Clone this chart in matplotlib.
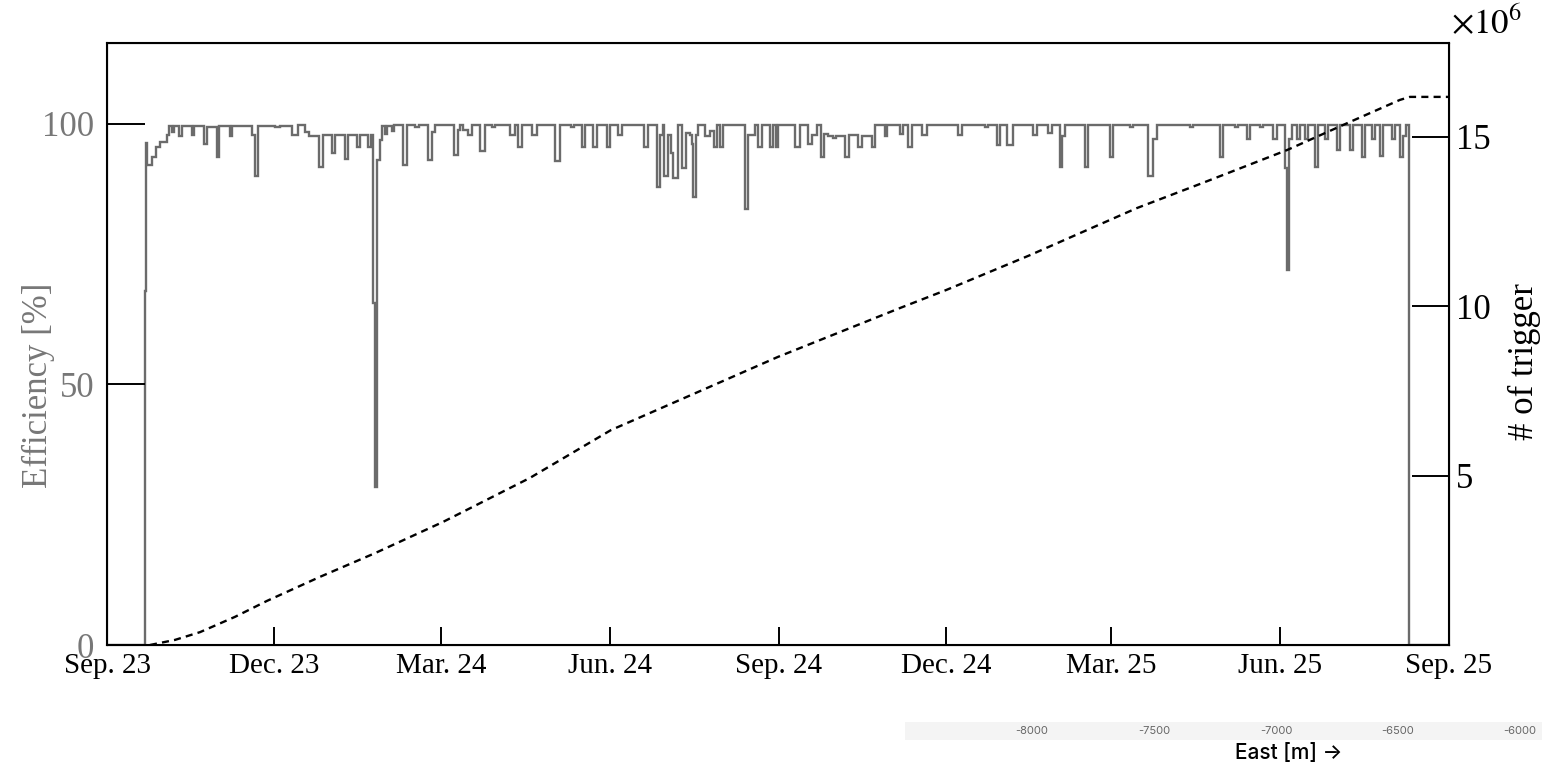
import numpy as np
import matplotlib
matplotlib.use("Agg")
import matplotlib.pyplot as plt

# efficiency step series: start day of each step (days since 2023-09-01) and value [%]
eff_start = [
    0.0, 20.7, 21.0, 21.8, 24.5, 26.7, 28.9, 32.7, 33.8, 35.4, 36.5, 39.2, 40.8, 46.3, 47.4,
    52.8, 54.5, 59.9, 61.0, 67.0, 68.1, 79.0, 80.6, 82.2, 91.5, 94.2, 100.8, 104.0, 107.8,
    110.0, 115.4, 117.6, 122.5, 124.2, 129.7, 131.3, 136.2, 137.9, 142.2, 143.8, 145.1,
    146.0, 147.1, 148.7, 149.8, 151.4, 152.5, 155.2, 156.3, 161.2, 163.4, 167.8, 169.9,
    174.8, 177.0, 178.6, 189.0, 191.2, 192.3, 193.9, 196.6, 198.8, 203.2, 205.9, 209.7,
    211.3, 219.5, 222.2, 223.9, 226.0, 231.5, 234.2, 244.0, 246.7, 252.7, 254.4, 258.7,
    260.3, 264.7, 266.9, 272.3, 274.0, 278.3, 280.5, 292.5, 294.7, 299.6, 301.2, 302.8,
    303.4, 305.6, 307.2, 308.3, 311.0, 313.2, 315.3, 317.5, 318.6, 319.2, 320.8, 321.9,
    325.7, 328.4, 330.6, 332.2, 333.9, 335.5, 347.5, 349.1, 352.9, 354.6, 356.8, 361.1,
    362.7, 364.4, 365.5, 374.7, 377.5, 381.8, 384.0, 386.7, 388.9, 390.5, 392.7, 395.4,
    397.1, 401.9, 404.1, 409.0, 411.2, 416.7, 418.3, 423.7, 424.8, 431.9, 433.6, 436.3,
    438.5, 443.9, 446.6, 463.5, 465.7, 478.2, 479.8, 484.7, 486.4, 490.2, 493.5, 504.4,
    506.5, 512.5, 514.7, 519.1, 520.2, 521.8, 532.7, 534.3, 546.3, 547.9, 557.2, 558.8,
    567.0, 569.7, 571.9, 589.9, 591.5, 606.2, 607.8, 614.4, 616.0, 620.9, 622.5, 628.0,
    629.6, 635.1, 637.3, 641.6, 642.7, 643.8, 645.4, 648.1, 649.8, 652.5, 654.2, 658.0,
    659.6, 663.4, 665.1, 670.0, 671.6, 677.1, 678.7, 683.6, 685.3, 689.1, 690.7, 693.4,
    695.0, 699.9, 701.5, 704.2, 705.9, 707.5, 709.3,
]
eff_val = [
    0, 68, 96.3, 92.1, 93.7, 95.6, 96.6, 97.9, 99.6, 98.5, 99.6, 97.6, 99.6, 97.9, 99.6,
    96.2, 99.4, 93.7, 99.6, 97.6, 99.6, 97.9, 89.9, 99.6, 99.3, 99.6, 97.9, 99.8, 98.5,
    97.6, 91.8, 97.9, 94.4, 97.9, 93.3, 97.9, 95.6, 97.9, 95.6, 97.9, 65.6,
    30.3, 93.1, 96.8, 99.6, 98.0, 99.6, 98.6, 99.8, 92.1, 99.8, 99.4, 99.8,
    93.1, 98.5, 99.8, 94.0, 98.8, 99.8, 98.8, 97.9, 99.8, 94.7, 99.8, 99.3,
    99.8, 97.9, 99.8, 95.6, 99.8, 97.9, 99.8, 92.9, 99.8, 99.3, 99.8, 95.6,
    99.8, 95.6, 99.8, 95.6, 99.8, 97.8, 99.8, 95.6, 99.8, 87.8, 97.9, 99.8,
    89.9, 97.9, 94.4, 89.6, 99.8, 91.6, 98.3, 97.9, 96.2, 86.0, 97.9, 99.8,
    97.6, 98.6, 95.6, 99.8, 95.6, 99.8, 83.7, 97.9, 99.8, 95.6, 99.8, 95.6,
    99.8, 95.6, 99.8, 95.6, 99.8, 96.2, 97.9, 99.8, 93.7, 98.1, 97.6, 97.3,
    97.6, 93.7, 97.9, 95.6, 97.6, 95.6, 99.8, 97.6, 99.8, 98.1, 99.8, 95.6,
    99.8, 97.9, 99.8, 97.9, 99.8, 99.3, 99.8, 96.0, 99.8, 96.0, 99.8, 97.9,
    99.8, 98.3, 99.8, 91.8, 97.6, 99.8, 91.8, 99.8, 93.7, 99.8, 99.3, 99.8,
    89.9, 97.0, 99.8, 99.3, 99.8, 93.7, 99.8, 99.3, 99.8, 97.0, 99.8, 99.3,
    99.8, 97.0, 99.8, 91.5, 72.0, 97.0, 99.8, 97.0, 99.8, 97.0, 99.8, 91.8,
    99.8, 97.0, 99.8, 95.0, 99.8, 95.0, 99.8, 93.7, 99.8, 97.0, 99.8, 93.9,
    99.8, 97.0, 99.8, 93.7, 97.6, 99.8, 0,
]
END_DAY = 731

# cumulative number of triggers (x10^6)
trig_day = [23.4, 37.0, 50.7, 69.7, 87.1, 116.0, 146.0, 183.0, 230.4, 274.5, 323.0,
            365.5, 404.7, 431.9, 457.0, 502.7, 561.0, 595.3, 642.7, 677.0, 704.2, 709.7, 731]
trig_m = [0, 0.15, 0.38, 0.83, 1.30, 2.01, 2.71, 3.63, 4.93, 6.34, 7.49,
          8.50, 9.35, 9.94, 10.47, 11.50, 12.89, 13.60, 14.60, 15.43, 16.08, 16.17, 16.17]

tick_dates = ["2023-09-01", "2023-12-01", "2024-03-01", "2024-06-01", "2024-09-01",
              "2024-12-01", "2025-03-01", "2025-06-01", "2025-09-01"]
tick_labels = ["Sep. 23", "Dec. 23", "Mar. 24", "Jun. 24", "Sep. 24",
               "Dec. 24", "Mar. 25", "Jun. 25", "Sep. 25"]

east_ticks = [-8000, -7500, -7000, -6500, -6000]

plt.rcParams["font.family"] = ["Liberation Serif", "DejaVu Serif"]
plt.rcParams["mathtext.fontset"] = "stix"

W, H = 1542, 767
fig = plt.figure(figsize=(W / 100, H / 100), dpi=100)
ax = fig.add_axes([107 / W, 1 - 645 / H, (1449 - 107) / W, (645 - 43) / H])

edges = np.array(eff_start + [END_DAY])
ax.stairs(eff_val, edges, baseline=None, color="#6b6b6b", lw=1.7)
ax.set_xlim(0, END_DAY)
ax.set_ylim(0, 115.5)

xt = (np.array(tick_dates, dtype="datetime64[D]") - np.datetime64(tick_dates[0], "D")).astype(int)
ax.set_xticks(xt)
ax.set_xticklabels(tick_labels)
ax.tick_params(axis="x", direction="in", length=13, width=1.4, labelsize=21, pad=6)
ax.set_yticks([0, 50, 100])
ax.tick_params(axis="y", direction="in", length=27, width=1.4, labelsize=25,
               labelcolor="#777777", pad=9)
ax.set_ylabel("Efficiency [%]", fontsize=25, color="#777777")
ax.yaxis.set_label_coords(-0.039, 0.432)
for s in ax.spines.values():
    s.set_linewidth(1.5)

ax2 = ax.twinx()
ax2.plot(trig_day, trig_m, color="black", lw=1.7, ls=(0, (3, 2.2)))
ax2.set_ylim(0, 17.76)
ax2.set_yticks([5, 10, 15])
ax2.tick_params(axis="y", direction="in", length=27, width=1.4, labelsize=25, pad=5)
ax2.set_ylabel("# of trigger", fontsize=25)
ax2.yaxis.set_label_coords(1.044, 0.47)
fig.text(1451 / W, 1 - 42 / H, r"$\times10^{6}$", fontsize=25, ha="left", va="bottom")

# stray axis strip in the lower right corner
bx = fig.add_axes([905 / W, 1 - 740 / H, (W - 905) / W, 18 / H], facecolor="#f4f4f4")
bx.set_xlim(-8520, -5910)
bx.set_ylim(0, 1)
for s in bx.spines.values():
    s.set_visible(False)
bx.set_xticks([])
bx.set_yticks([])
for v in east_ticks:
    bx.text(v, 0.5, str(v), ha="center", va="center", fontsize=8, color="#666666",
            family=["Inter", "DejaVu Sans"])
fig.text(1289 / W, 1 - 753 / H, "East [m] \u2192", ha="center", va="center", fontsize=15,
         fontweight="medium", family=["Inter", "DejaVu Sans"])

fig.savefig("out.png", dpi=100)
